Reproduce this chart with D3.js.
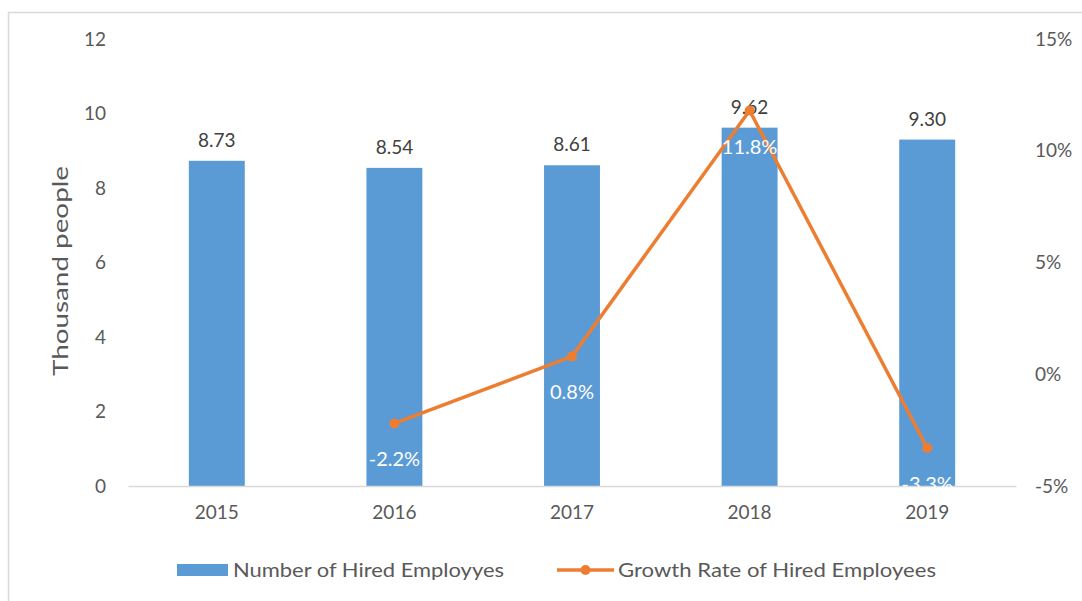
<!DOCTYPE html>
<html>
<head>
<meta charset="utf-8">
<script src="https://cdn.jsdelivr.net/npm/d3@7"></script>
<style>
  html, body { margin: 0; padding: 0; background: #fff; }
  svg text { font-family: Lato, "Open Sans", sans-serif; }
</style>
</head>
<body>
<svg id="chart" width="1082" height="601"></svg>
<script>
// Hired employees per year (thousand people) and their year-on-year growth
const years = ["2015", "2016", "2017", "2018", "2019"];
const hired = [8.73, 8.54, 8.61, 9.62, 9.30];
const growthYears = ["2016", "2017", "2018", "2019"];
const growth = [-2.2, 0.8, 11.8, -3.3];
const leftTicks = [0, 2, 4, 6, 8, 10, 12];
const rightTicks = [-5, 0, 5, 10, 15];

const svg = d3.select("#chart");
const plot = { left: 128, right: 1016, top: 39, bottom: 486 };

// Chart frame
svg.append("rect")
  .attr("x", 8.5).attr("y", 12.5)
  .attr("width", 1100).attr("height", 700)
  .attr("fill", "#fff").attr("stroke", "#d9d9d9").attr("stroke-width", 1.5);

const x = d3.scaleBand().domain(years).range([plot.left, plot.right]).paddingInner(0).paddingOuter(0);
const yL = d3.scaleLinear().domain([0, 12]).range([plot.bottom, plot.top]);
const yR = d3.scaleLinear().domain([-5, 15]).range([plot.bottom, plot.top]);

const barW = x.bandwidth() * 0.315;
const textGrey = "#595959";

// Left axis labels
const leftAxis = svg.append("g").attr("transform", `translate(${plot.left - 22},0)`)
  .call(d3.axisLeft(yL).tickValues(leftTicks).tickSize(0).tickPadding(0));
leftAxis.select(".domain").remove();
leftAxis.selectAll("text").attr("fill", textGrey).style("font-size", "19px");

// Right axis labels
const rightAxis = svg.append("g").attr("transform", `translate(${plot.right + 19},0)`)
  .call(d3.axisRight(yR).tickValues(rightTicks).tickSize(0).tickPadding(0)
    .tickFormat(d => d + "%"));
rightAxis.select(".domain").remove();
rightAxis.selectAll("text").attr("fill", textGrey).style("font-size", "19px");

// Bars
svg.append("g").selectAll("rect").data(years).join("rect")
  .attr("x", (d) => x(d) + x.bandwidth() / 2 - barW / 2)
  .attr("y", (d, i) => yL(hired[i]))
  .attr("width", barW)
  .attr("height", (d, i) => plot.bottom - yL(hired[i]))
  .attr("fill", "#5b9bd5");

// Category axis baseline
const bottomAxis = svg.append("g").attr("transform", `translate(0,${plot.bottom})`)
  .call(d3.axisBottom(x).tickSize(0).tickPadding(20));
bottomAxis.select(".domain").attr("stroke", "#d9d9d9").attr("stroke-width", 1.5);
bottomAxis.selectAll("text").attr("fill", textGrey).style("font-size", "19px");

// Bar value labels
svg.append("g").selectAll("text").data(years).join("text")
  .attr("x", d => x(d) + x.bandwidth() / 2)
  .attr("y", (d, i) => yL(hired[i]) - 14)
  .attr("text-anchor", "middle")
  .attr("fill", "#404040")
  .style("font-size", "19px")
  .text((d, i) => hired[i].toFixed(2));

// Growth line
const cx = d => x(d) + x.bandwidth() / 2;
const line = d3.line().x((d, i) => cx(growthYears[i])).y(d => yR(d));
svg.append("path").datum(growth)
  .attr("d", line)
  .attr("fill", "none")
  .attr("stroke", "#ed7d31")
  .attr("stroke-width", 3.5)
  .attr("stroke-linejoin", "round");

svg.append("g").selectAll("circle").data(growth).join("circle")
  .attr("cx", (d, i) => cx(growthYears[i]))
  .attr("cy", d => yR(d))
  .attr("r", 5)
  .attr("fill", "#ed7d31");

// Growth labels
svg.append("g").selectAll("text").data(growth).join("text")
  .attr("x", (d, i) => cx(growthYears[i]))
  .attr("y", d => yR(d) + 43)
  .attr("text-anchor", "middle")
  .attr("fill", "#ffffff")
  .style("font-size", "20px")
  .text(d => d.toFixed(1) + "%");

// Left axis title
svg.append("text")
  .attr("transform", `translate(68,271) rotate(-90)`)
  .attr("text-anchor", "middle")
  .attr("fill", textGrey)
  .style("font-size", "21px")
  .attr("textLength", 210)
  .attr("lengthAdjust", "spacingAndGlyphs")
  .text("Thousand people");

// Legend
const legend = svg.append("g");
legend.append("rect").attr("x", 177).attr("y", 564).attr("width", 51).attr("height", 12).attr("fill", "#5b9bd5");
legend.append("text").attr("x", 233).attr("y", 577).attr("fill", textGrey).style("font-size", "20px")
  .attr("textLength", 271).attr("lengthAdjust", "spacingAndGlyphs")
  .text("Number of Hired Employyes");
legend.append("line").attr("x1", 557).attr("x2", 614).attr("y1", 570).attr("y2", 570)
  .attr("stroke", "#ed7d31").attr("stroke-width", 3.5);
legend.append("circle").attr("cx", 585.5).attr("cy", 570).attr("r", 5).attr("fill", "#ed7d31");
legend.append("text").attr("x", 618).attr("y", 577).attr("fill", textGrey).style("font-size", "20px")
  .attr("textLength", 318).attr("lengthAdjust", "spacingAndGlyphs")
  .text("Growth Rate of Hired Employees");
</script>
</body>
</html>
